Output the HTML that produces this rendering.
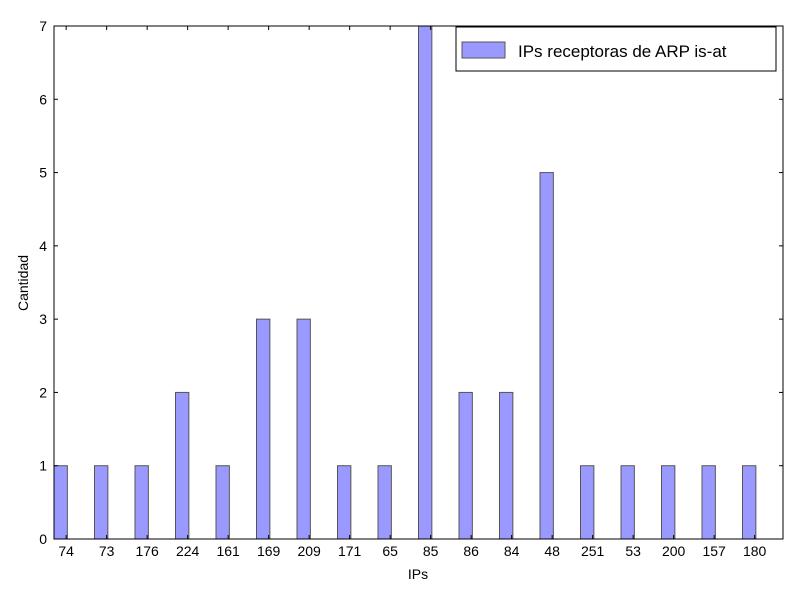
<!DOCTYPE html>
<html><head><meta charset="utf-8"><style>
body{margin:0;background:#fff;}
svg text{font-family:"Liberation Sans",sans-serif;}
</style></head><body>
<svg id="chart" width="800" height="600" xmlns="http://www.w3.org/2000/svg">
<rect x="0" y="0" width="800" height="600" fill="#fff"/>
<g id="bars"></g>
<g id="axes"></g>
<rect x="54" y="26" width="729" height="513" fill="none" stroke="#000" stroke-width="1"/>
<g>
<rect x="456" y="27" width="320" height="44" fill="#fff" stroke="#000" stroke-width="1"/>
<rect x="462" y="42" width="43" height="16" fill="#9999ff" stroke="#555" stroke-width="1"/>
<text x="518" y="57" font-size="17">IPs receptoras de ARP is-at</text>
</g>
<text x="418" y="579" font-size="14" text-anchor="middle">IPs</text>
<text x="28" y="283" font-size="14" text-anchor="middle" transform="rotate(-90 28 283)">Cantidad</text>
</svg>
<script>
const categories=["74","73","176","224","161","169","209","171","65","85","86","84","48","251","53","200","157","180"];
const counts=[1,1,1,2,1,3,3,1,1,7,2,2,5,1,1,1,1,1];
const yTicks=[0,1,2,3,4,5,6,7];
const NS="http://www.w3.org/2000/svg";
const X0=54,X1=783,Y0=539,Y1=26,XMAX=18,YMAX=7;
const xs=v=>X0+v*(X1-X0)/XMAX;
const ys=v=>Y0-v*(Y0-Y1)/YMAX;
const bars=document.getElementById('bars'),axes=document.getElementById('axes');
function mk(tag,attrs,parent){const e=document.createElementNS(NS,tag);for(const k in attrs)e.setAttribute(k,attrs[k]);parent.appendChild(e);return e;}
categories.forEach((c,i)=>{
  const r=mk('rect',{x:xs(i),y:ys(counts[i]),width:xs(i+0.33)-xs(i),height:ys(0)-ys(counts[i]),fill:'#9999ff',stroke:'#555','stroke-width':1},bars);
  
  
  const tx=xs(i+0.3);
  mk('line',{x1:tx,x2:tx,y1:Y0,y2:Y0-4,stroke:'#000'},axes);
  mk('line',{x1:tx,x2:tx,y1:Y1,y2:Y1+4,stroke:'#000'},axes);
  const t=mk('text',{x:tx,y:556,'font-size':14,'text-anchor':'middle'},axes);
  t.textContent=c;
  
  
});
yTicks.forEach(v=>{
  const y=ys(v);
  mk('line',{x1:X0,x2:X0+4,y1:y,y2:y,stroke:'#000'},axes);
  mk('line',{x1:X1,x2:X1-4,y1:y,y2:y,stroke:'#000'},axes);
  const t=mk('text',{x:47,y:y+5,'font-size':14,'text-anchor':'end'},axes);
  t.textContent=v;
  
  
});
</script>
</body></html>
